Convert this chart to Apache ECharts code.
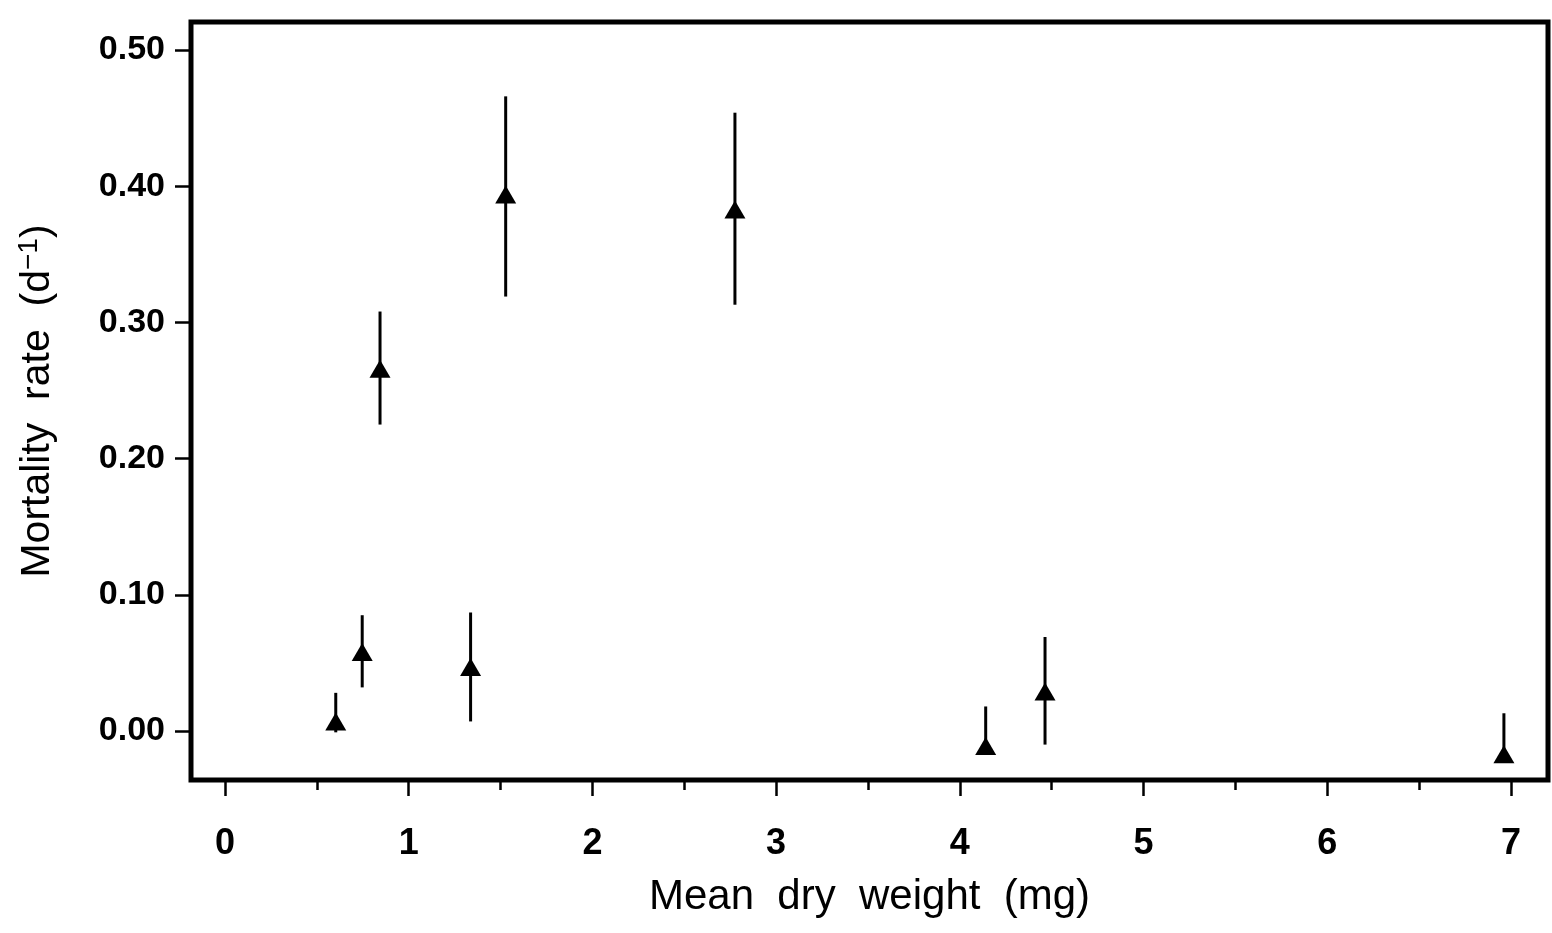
<!DOCTYPE html>
<html>
<head>
<meta charset="utf-8">
<script src="https://cdn.jsdelivr.net/npm/echarts@6/dist/echarts.min.js"></script>
<style>
html,body{margin:0;padding:0;background:#fff;}
#chart{width:1552px;height:933px;}
</style>
</head>
<body>
<div id="chart"></div>
<script>
// Data
const dryWeight   = [0.603, 0.747, 0.844, 1.337, 1.528, 2.776, 4.141, 4.464, 6.962];
const mortality   = [0.007, 0.058, 0.266, 0.047, 0.394, 0.383, -0.011, 0.029, -0.017];
const errUpper    = [0.028, 0.085, 0.308, 0.087, 0.466, 0.454, 0.018, 0.069, 0.013];
const errLower    = [-0.001, 0.032, 0.225, 0.007, 0.319, 0.313, -0.011, -0.010, -0.017];
const xMajorTicks = [0, 1, 2, 3, 4, 5, 6, 7];
const xMinorTicks = [0.5, 1.5, 2.5, 3.5, 4.5, 5.5, 6.5];
const yTicks      = [0, 0.1, 0.2, 0.3, 0.4, 0.5];

const FONT = '"Liberation Sans", Arial, Helvetica, sans-serif';
const points = dryWeight.map((x, i) => [x, mortality[i]]);
const bars = dryWeight.map((x, i) => [x, errLower[i], errUpper[i]]);

const chart = echarts.init(document.getElementById('chart'), null, {renderer: 'canvas'});
chart.setOption({
  animation: false,
  backgroundColor: '#ffffff',
  grid: {
    left: 191, right: 4, top: 22, bottom: 153,
    show: true, borderColor: '#000', borderWidth: 5, backgroundColor: 'transparent'
  },
  xAxis: [{
    type: 'value', min: -0.185, max: 7.202, position: 'bottom',
    axisLine: {show: false, onZero: false},
    splitLine: {show: false},
    axisTick: {show: true, customValues: xMajorTicks, length: 16, inside: false,
               lineStyle: {color: '#000', width: 2.5}},
    axisLabel: {show: true, customValues: xMajorTicks, margin: 46,
                fontFamily: FONT, fontWeight: 'bold', fontSize: 36, color: '#000',
                formatter: v => String(Math.round(v))},
    name: 'Mean  dry  weight  (mg)',
    nameLocation: 'middle', nameGap: 96,
    nameTextStyle: {fontFamily: FONT, fontSize: 42, color: '#000'}
  }, {
    type: 'value', min: -0.185, max: 7.202, position: 'bottom',
    axisLine: {show: false, onZero: false}, splitLine: {show: false},
    axisTick: {show: true, customValues: xMinorTicks, length: 10,
               lineStyle: {color: '#000', width: 2.5}},
    axisLabel: {show: false}
  }],
  yAxis: {
    type: 'value', min: -0.036, max: 0.5206, position: 'left',
    axisLine: {show: false, onZero: false},
    splitLine: {show: false},
    axisTick: {show: true, customValues: yTicks, length: 16,
               lineStyle: {color: '#000', width: 2.5}},
    axisLabel: {show: true, customValues: yTicks, margin: 26,
                fontFamily: FONT, fontWeight: 'bold', fontSize: 34, color: '#000',
                formatter: v => v.toFixed(2)},
    name: '{t|Mortality  rate  (d}{s|−1}{t|)}',
    nameLocation: 'middle', nameRotate: 90, nameGap: 130,
    nameTextStyle: {
      rich: {
        t: {fontFamily: FONT, fontSize: 41, color: '#000'},
        s: {fontFamily: FONT, fontSize: 28, color: '#000', padding: [0, 0, 18, 0]}
      }
    }
  },
  series: [{
    type: 'custom',
    xAxisIndex: 0,
    data: bars,
    z: 2,
    renderItem: function (params, api) {
      const x = api.value(0);
      const lo = api.coord([x, api.value(1)]);
      const hi = api.coord([x, api.value(2)]);
      return {
        type: 'line',
        shape: {x1: lo[0], y1: lo[1], x2: hi[0], y2: hi[1]},
        style: {stroke: '#000', lineWidth: 3}
      };
    }
  }, {
    type: 'scatter',
    xAxisIndex: 0,
    data: points,
    symbol: 'triangle',
    symbolSize: [21, 18],
    itemStyle: {color: '#000', opacity: 1},
    z: 3
  }]
});
</script>
</body>
</html>
